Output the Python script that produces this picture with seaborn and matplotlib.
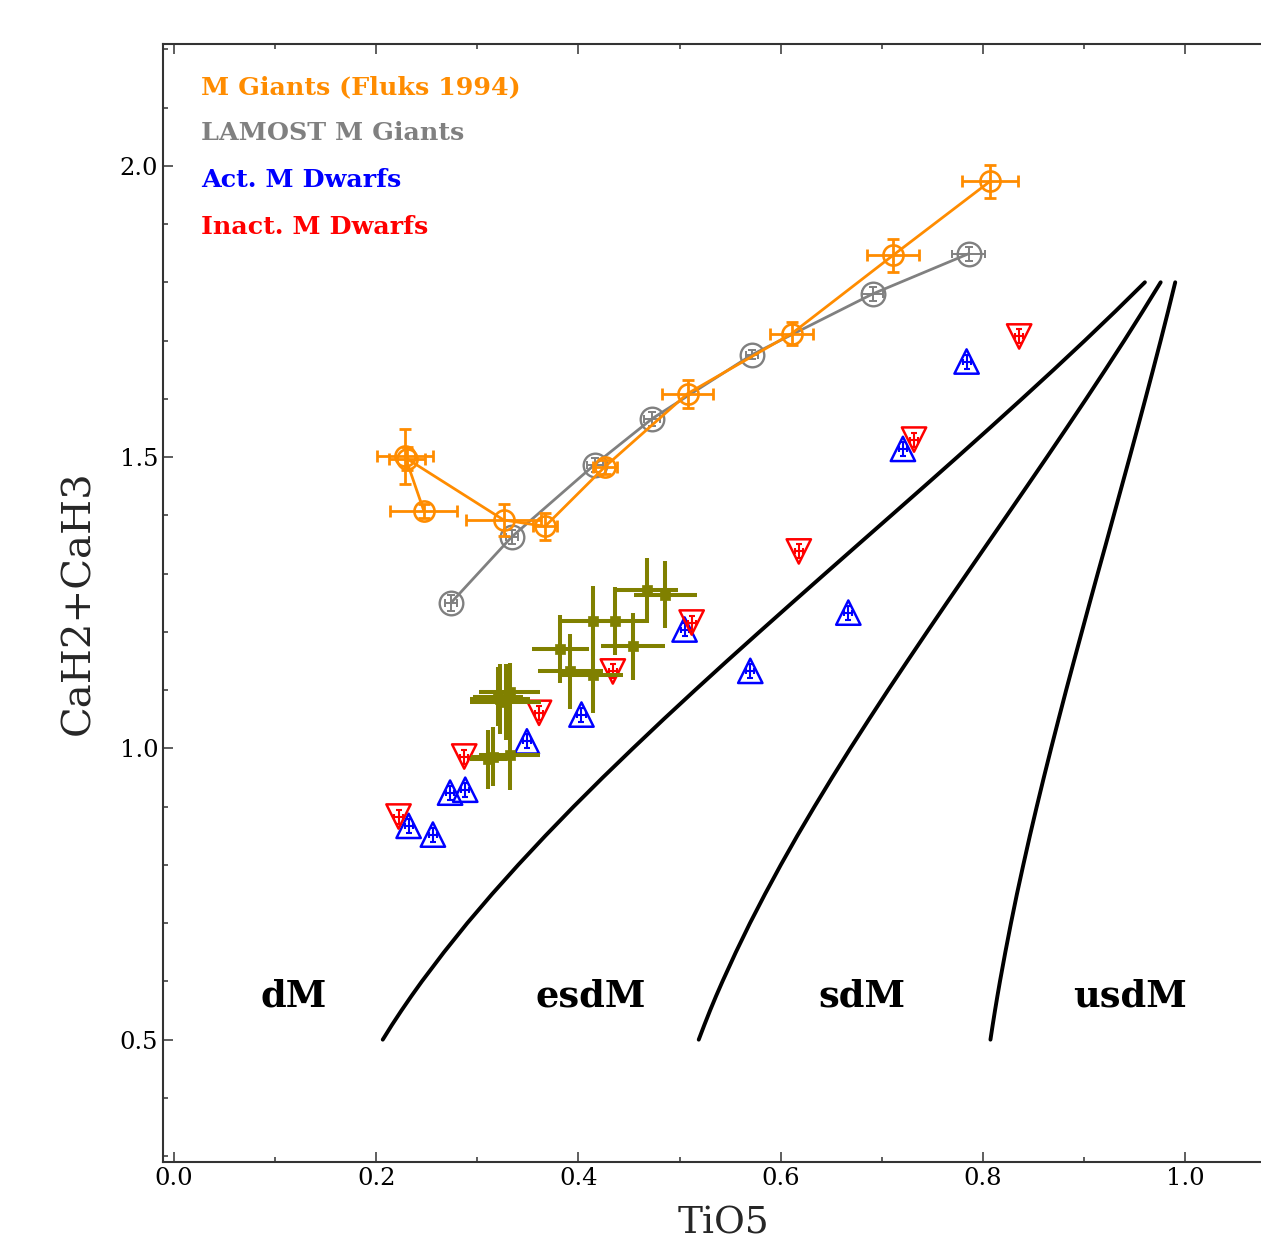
import numpy as np
import pandas as pd
import matplotlib
matplotlib.use("Agg")
import matplotlib.pyplot as plt
import seaborn as sns
from matplotlib.ticker import MultipleLocator, FormatStrFormatter

# ---------------- data ----------------
# M giants (Fluks 1994)
fluks_tio5 = [0.247, 0.2285, 0.2305, 0.326, 0.367, 0.426, 0.508, 0.611, 0.711, 0.807]
fluks_cah = [1.408, 1.501, 1.497, 1.392, 1.381, 1.483, 1.609, 1.712, 1.846, 1.973]
fluks_xerr = [0.033, 0.028, 0.018, 0.037, 0.012, 0.012, 0.025, 0.021, 0.026, 0.028]
fluks_yerr = [0.012, 0.048, 0.020, 0.027, 0.023, 0.012, 0.024, 0.019, 0.028, 0.028]

# LAMOST M giants
lam_tio5 = [0.274, 0.334, 0.416, 0.473, 0.572, 0.691, 0.786]
lam_cah = [1.250, 1.363, 1.487, 1.566, 1.676, 1.780, 1.849]
lam_xerr = [0.006, 0.006, 0.008, 0.008, 0.006, 0.010, 0.016]
lam_yerr = [0.014, 0.012, 0.012, 0.012, 0.008, 0.012, 0.012]

# Active M dwarfs
act_tio5 = [0.232, 0.256, 0.273, 0.288, 0.349, 0.403, 0.505, 0.570, 0.667, 0.721, 0.784]
act_cah = [0.867, 0.852, 0.924, 0.929, 1.012, 1.058, 1.204, 1.133, 1.233, 1.514, 1.664]

# Inactive M dwarfs
ina_tio5 = [0.222, 0.287, 0.361, 0.434, 0.512, 0.618, 0.732, 0.836]
ina_cah = [0.883, 0.986, 1.061, 1.132, 1.216, 1.338, 1.530, 1.707]

# other sample (olive)
oli_tio5 = [0.468, 0.486, 0.414, 0.436, 0.454, 0.382, 0.392, 0.414,
            0.3225, 0.328, 0.3205, 0.332, 0.3155, 0.332, 0.311]
oli_cah = [1.271, 1.264, 1.219, 1.219, 1.175, 1.171, 1.132, 1.126,
           1.084, 1.079, 1.089, 1.096, 0.986, 0.989, 0.981]
oli_xerr = [0.030, 0.031, 0.030, 0.032, 0.032, 0.028, 0.032, 0.030,
            0.030, 0.035, 0.025, 0.030, 0.022, 0.030, 0.018]
oli_yerr = [0.055, 0.058, 0.060, 0.058, 0.058, 0.058, 0.065, 0.065,
            0.060, 0.065, 0.050, 0.050, 0.050, 0.060, 0.050]

# class boundary curves
bound_cah = [0.50, 0.525, 0.55, 0.575, 0.60, 0.65, 0.70, 0.75, 0.80, 0.85, 0.90, 0.95, 1.00, 1.05,
             1.10, 1.15, 1.20, 1.25, 1.30, 1.35, 1.40, 1.45, 1.50, 1.55, 1.60, 1.65, 1.70, 1.75, 1.80]
bound1_tio5 = [0.2064, 0.2154, 0.2249, 0.2348, 0.2451, 0.2669, 0.2900, 0.3146, 0.3404, 0.3673,
               0.3952, 0.4241, 0.4539, 0.4843, 0.5154, 0.5470, 0.5791, 0.6115, 0.6441, 0.6768,
               0.7096, 0.7423, 0.7748, 0.8070, 0.8388, 0.8702, 0.9010, 0.9311, 0.9604]
bound2_tio5 = [0.5190, 0.5245, 0.5302, 0.5362, 0.5425, 0.5557, 0.5697, 0.5846, 0.6002, 0.6165,
               0.6335, 0.6510, 0.6690, 0.6875, 0.7063, 0.7255, 0.7449, 0.7645, 0.7843, 0.8041,
               0.8240, 0.8438, 0.8635, 0.8830, 0.9023, 0.9213, 0.9400, 0.9582, 0.9760]
bound3_tio5 = [0.8076, 0.8098, 0.8121, 0.8145, 0.8170, 0.8223, 0.8279, 0.8338, 0.8401, 0.8466,
               0.8534, 0.8604, 0.8676, 0.8750, 0.8825, 0.8902, 0.8980, 0.9058, 0.9137, 0.9217,
               0.9296, 0.9375, 0.9454, 0.9532, 0.9609, 0.9685, 0.9760, 0.9833, 0.9904]

class_labels = ["dM", "esdM", "sdM", "usdM"]
class_x = [0.118, 0.4125, 0.680, 0.9456]
class_y = [0.574, 0.574, 0.574, 0.574]

legend_texts = ["M Giants (Fluks 1994)", "LAMOST M Giants", "Act. M Dwarfs", "Inact. M Dwarfs"]
legend_colors = ["#FF8C00", "#808080", "#0000FF", "#FF0000"]
legend_y = [2.135, 2.056, 1.976, 1.895]

# ---------------- style ----------------
sns.set_style("ticks")
plt.rcParams["font.family"] = ["DejaVu Serif"]
plt.rcParams["mathtext.fontset"] = "dejavuserif"

fig = plt.figure(figsize=(12.61, 12.34), dpi=100)
ax = fig.add_axes([163 / 1261, (1234 - 1162) / 1234, 1122 / 1261, (1162 - 44) / 1234])

ORANGE = "#FF8C00"
GRAY = "#808080"
OLIVE = "#808000"

# boundary curves
for bx in (bound1_tio5, bound2_tio5, bound3_tio5):
    sns.lineplot(x=bx, y=bound_cah, sort=False, estimator=None, color="black",
                 linewidth=2.8, ax=ax, zorder=2)

# LAMOST giants
ax.errorbar(lam_tio5, lam_cah, xerr=lam_xerr, yerr=lam_yerr, fmt="none", ecolor=GRAY,
            elinewidth=1.4, capsize=3, capthick=1.4, zorder=3)
sns.lineplot(x=lam_tio5, y=lam_cah, sort=False, estimator=None, color=GRAY, linewidth=2.0,
             marker="o", markersize=17, markerfacecolor="none", markeredgecolor=GRAY,
             markeredgewidth=1.7, ax=ax, zorder=3)

# Fluks giants
ax.errorbar(fluks_tio5, fluks_cah, xerr=fluks_xerr, yerr=fluks_yerr, fmt="none", ecolor=ORANGE,
            elinewidth=2.0, capsize=4.5, capthick=2.0, zorder=4)
sns.lineplot(x=fluks_tio5, y=fluks_cah, sort=False, estimator=None, color=ORANGE, linewidth=2.0,
             marker="o", markersize=14.5, markerfacecolor="none", markeredgecolor=ORANGE,
             markeredgewidth=1.9, ax=ax, zorder=4)

# dwarfs
ax.errorbar(act_tio5, act_cah, xerr=0.004, yerr=0.012, fmt="none", ecolor="blue",
            elinewidth=1.5, capsize=2.5, capthick=1.5, zorder=3)
sns.scatterplot(x=act_tio5, y=act_cah, marker="^", s=17.5 ** 2, facecolor="none",
                edgecolor="blue", linewidth=1.8, ax=ax, zorder=3)
ax.errorbar(ina_tio5, ina_cah, xerr=0.004, yerr=0.012, fmt="none", ecolor="red",
            elinewidth=1.5, capsize=2.5, capthick=1.5, zorder=3)
sns.scatterplot(x=ina_tio5, y=ina_cah, marker="v", s=17.5 ** 2, facecolor="none",
                edgecolor="red", linewidth=1.8, ax=ax, zorder=3)

# olive sample
ax.errorbar(oli_tio5, oli_cah, xerr=oli_xerr, yerr=oli_yerr, fmt="none", ecolor=OLIVE,
            elinewidth=2.9, capsize=0, zorder=5)
sns.scatterplot(x=oli_tio5, y=oli_cah, marker="s", s=7 ** 2, color=OLIVE,
                edgecolor=OLIVE, linewidth=0.5, ax=ax, zorder=5)

# class labels
for t, x, y in zip(class_labels, class_x, class_y):
    ax.text(x, y, t, fontsize=26.5, fontweight="bold", ha="center", va="center", color="black")

# legend-like labels
for t, c, y in zip(legend_texts, legend_colors, legend_y):
    ax.text(0.0267, y, t, fontsize=18.3, fontweight="bold", ha="left", va="center", color=c)

ax.set_xlim(-0.011, 1.099)
ax.set_ylim(0.29, 2.209)
ax.xaxis.set_major_locator(MultipleLocator(0.2))
ax.xaxis.set_minor_locator(MultipleLocator(0.1))
ax.yaxis.set_major_locator(MultipleLocator(0.5))
ax.yaxis.set_minor_locator(MultipleLocator(0.1))
ax.tick_params(which="both", direction="in", top=True, right=True, colors="#333333",
               labelcolor="black", labelsize=17.5, width=1.1)
ax.tick_params(which="major", length=7.5)
ax.tick_params(which="minor", length=3.8)
ax.xaxis.set_major_formatter(FormatStrFormatter("%.1f"))
ax.yaxis.set_major_formatter(FormatStrFormatter("%.1f"))
for sp in ax.spines.values():
    sp.set_linewidth(1.5)
    sp.set_color("#333333")

ax.set_xlabel("TiO5", fontsize=27, labelpad=11)
ax.set_ylabel("CaH2+CaH3", fontsize=29, labelpad=16)

fig.savefig("out.png", dpi=100)
